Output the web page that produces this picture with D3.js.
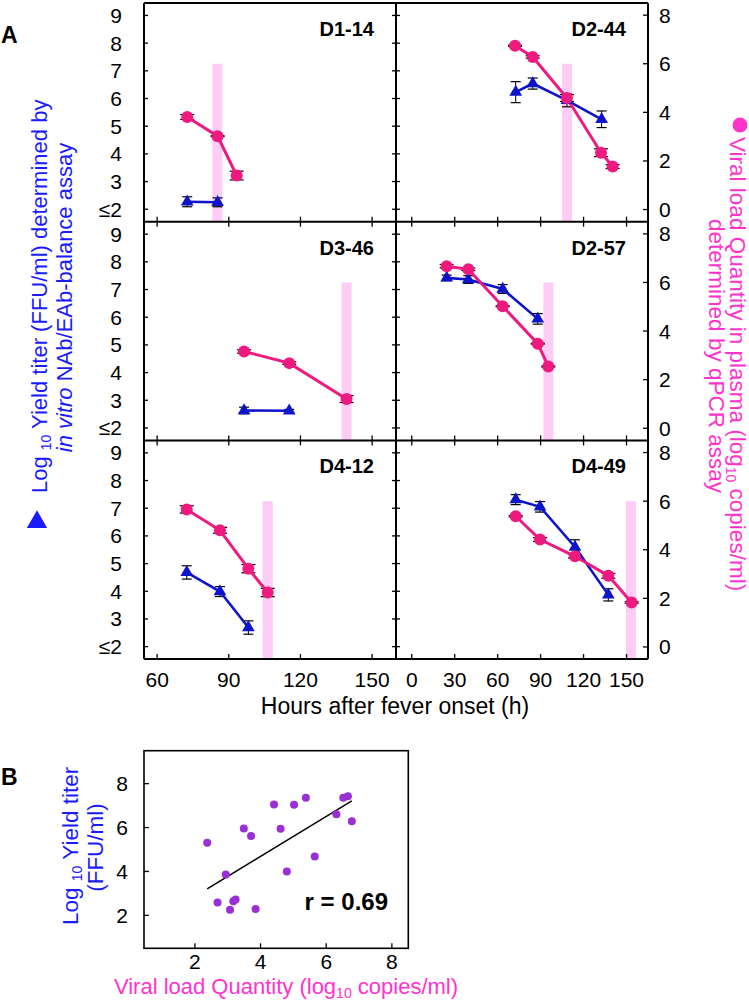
<!DOCTYPE html>
<html><head><meta charset="utf-8">
<script src="https://cdn.jsdelivr.net/npm/d3@7"></script>
<style>body{margin:0;background:#fff}svg{display:block;font-family:"Liberation Sans",Arial,sans-serif}</style>
</head><body><svg id="c" width="749" height="1000"></svg>
<script>
// ---------- DATA ----------
const panelNames = ["D1-14","D2-44","D3-46","D2-57","D4-12","D4-49"];
// viral load (log10 copies/ml, right axis) - pink circles
const loadHours = [[72.6,85.3,93.3],[72.1,84.5,108.4,132.2,140.3],[96.4,115.3,139.3],[24.4,39.5,63.5,88.0,95.4],[72.4,86.3,98.2,106.3],[72.6,89.6,114.0,137.3,153.6]];
const loadValues = [[3.81,3.02,1.40],[6.74,6.28,4.59,2.34,1.77],[3.16,2.68,1.20],[6.67,6.54,5.02,3.48,2.54],[5.66,4.80,3.22,2.24],[5.38,4.42,3.73,2.93,1.83]];
const loadErr = [[0.10,0.02,0.18],[0.03,0.05,0.14,0.16,0.08],[0.07,0.05,0.14],[0.07,0.05,0.02,0.02,0.02],[0.15,0.12,0.17,0.17],[0.03,0.08,0.07,0.10,0.03]];
// yield titer (log10 FFU/ml, left axis) - blue triangles
const titerHours = [[72.6,85.3],[72.6,84.5,108.4,132.6],[96.4,115.3],[24.4,39.5,63.5,88.0],[72.4,86.3,98.2],[72.6,89.6,114.0,137.3]];
const titerValues = [[2.27,2.25],[6.23,6.54,5.93,5.25],[2.63,2.62],[7.42,7.36,7.02,5.94],[4.68,3.99,2.69],[7.31,7.05,5.60,3.87]];
const titerErr = [[0.18,0.16],[0.38,0.20,0.23,0.30],[0.12,0.05],[0.10,0.14,0.16,0.19],[0.24,0.18,0.24],[0.18,0.19,0.26,0.22]];
// shaded marker (hours after fever onset)
const bandHours = [85.2,108.5,139.3,95.4,106.3,153.1];
const bandTopLoad = 6;
// axes
const leftXTicks = [60,90,120,150];
const rightXTicks = [0,30,60,90,120,150];
const titerTicks = [2,3,4,5,6,7,8,9];
const titerTickLabels = ["≤2","3","4","5","6","7","8","9"];
const loadTicks = [0,2,4,6,8];
// panel B scatter
const scatterLoad = [2.375,2.69,2.94,3.07,3.17,3.24,3.49,3.71,3.85,4.41,4.61,4.80,5.02,5.38,5.65,6.31,6.52,6.66,6.78];
const scatterTiter = [5.31,2.59,3.86,2.26,2.64,2.72,5.96,5.61,2.29,7.05,5.95,4.00,7.04,7.36,4.68,6.60,7.36,7.43,6.29];
const fitLoad = [2.375,6.78];
const fitTiter = [3.21,7.21];
const scatterXTicks = [2,4,6,8];
const scatterYTicks = [2,4,6,8];

// ---------- STYLE ----------
const PINK = "#ee1a80", BLUE = "#0d14c9", LBLUE = "#1a1aff", LPINK = "#ff33cc", BAND = "#ffccf6", PURPLE = "#9a2fd6";
const TICKFS = 21, LABFS = 22.5, SUBFS = 14;
const svg = d3.select("#c");
const colX = [144,396], colW = 252;
const rowY = [3,221.7,440.4], rowH = 218.7;
const xDomains = [[54.5,160],[-11,165]];

function tline(g,x1,y1,x2,y2,w){g.append("line").attr("x1",x1).attr("y1",y1).attr("x2",x2).attr("y2",y2).attr("stroke","#000").attr("stroke-width",w||1.3);}

panelNames.forEach((name,i)=>{
  const col=i%2,row=Math.floor(i/2);
  const x0=colX[col],y0=rowY[row];
  const x=d3.scaleLinear().domain(xDomains[col]).range([x0,x0+colW]);
  const yL=d3.scaleLinear().domain([1.55,9.45]).range([y0+rowH,y0]);
  const yR=d3.scaleLinear().domain([-0.5,8.5]).range([y0+rowH,y0]);
  const g=svg.append("g");
  g.append("rect").attr("x",x(bandHours[i])-5).attr("width",10)
   .attr("y",yR(bandTopLoad)).attr("height",y0+rowH-yR(bandTopLoad)).attr("fill",BAND);
  const eb=(hs,vs,es,y,cw)=>hs.forEach((h,k)=>{
    const cx=x(h),a=y(vs[k]+es[k]),b=y(vs[k]-es[k]);
    tline(g,cx,a,cx,b,1);tline(g,cx-cw,a,cx+cw,a,1.2);tline(g,cx-cw,b,cx+cw,b,1.2);
  });
  eb(loadHours[i],loadValues[i],loadErr[i],yR,7);
  eb(titerHours[i],titerValues[i],titerErr[i],yL,5);
  const lineT=d3.line().x(d=>x(d[0])).y(d=>yL(d[1]));
  const lineP=d3.line().x(d=>x(d[0])).y(d=>yR(d[1]));
  const tData=titerHours[i].map((h,k)=>[h,titerValues[i][k]]);
  const pData=loadHours[i].map((h,k)=>[h,loadValues[i][k]]);
  g.append("path").attr("d",lineT(tData)).attr("fill","none").attr("stroke",BLUE).attr("stroke-width",2.6);
  g.append("path").attr("d",lineP(pData)).attr("fill","none").attr("stroke",PINK).attr("stroke-width",3);
  g.selectAll(".tri").data(tData).join("path").attr("transform",d=>`translate(${x(d[0])},${yL(d[1])})`)
   .attr("d",d3.symbol().type(d3.symbolTriangle).size(70)).attr("fill",BLUE);
  g.selectAll(".cir").data(pData).join("circle").attr("cx",d=>x(d[0])).attr("cy",d=>yR(d[1])).attr("r",6).attr("fill",PINK);
  const xt=col===0?leftXTicks:rightXTicks;
  xt.forEach(t=>{tline(g,x(t),y0+rowH,x(t),y0+rowH-5); if(row>0) tline(g,x(t),y0,x(t),y0+5);});
  titerTicks.forEach(t=>{
    if(col===0) tline(g,x0,yL(t),x0+4,yL(t)); else tline(g,x0-4,yL(t),x0+4,yL(t));
  });
  if(col===1) loadTicks.forEach(t=>tline(g,x0+colW-5,yR(t),x0+colW,yR(t)));
  if(col===0) titerTicks.forEach((t,k)=>g.append("text").attr("x",122).attr("y",yL(t)+7.5).attr("text-anchor","end").attr("font-size",TICKFS).text(titerTickLabels[k]));
  else loadTicks.forEach(t=>g.append("text").attr("x",659).attr("y",yR(t)+7.5).attr("font-size",TICKFS).text(t));
  if(row===2) xt.forEach(t=>g.append("text").attr("x",x(t)).attr("y",687).attr("text-anchor","middle").attr("font-size",TICKFS).text(t));
  g.append("text").attr("x",x0+colW-22).attr("y",y0+33).attr("text-anchor","end").attr("font-size",20).attr("font-weight","bold").text(name);
});
const fr=svg.append("g");
tline(fr,144,3,648,3,2);tline(fr,144,659.1,648,659.1,2);
tline(fr,144,3,144,659.1,2);tline(fr,396,3,396,659.1,2);tline(fr,648,3,648,659.1,2);
tline(fr,144,221.7,648,221.7,2);tline(fr,144,440.4,648,440.4,2);

svg.append("text").attr("x",395).attr("y",714).attr("text-anchor","middle").attr("font-size",23).text("Hours after fever onset (h)");
svg.append("text").attr("x",1).attr("y",43).attr("font-size",23).attr("font-weight","bold").text("A");
svg.append("text").attr("x",1).attr("y",785).attr("font-size",23).attr("font-weight","bold").text("B");

// left label
svg.append("path").attr("transform","translate(37,522)").attr("d",d3.symbol().type(d3.symbolTriangle).size(180)).attr("fill",LBLUE);
const ll=svg.append("text").attr("transform","translate(47,493) rotate(-90)").attr("font-size",22).attr("fill",LBLUE);
ll.append("tspan").text("Log ");ll.append("tspan").attr("font-size",SUBFS).attr("dy",4).text("10");
ll.append("tspan").attr("dy",-4).text(" Yield titer (FFU/ml) determined by");
const ll2=svg.append("text").attr("transform","translate(72,297.5) rotate(-90)").attr("font-size",22).attr("fill",LBLUE).attr("text-anchor","middle");
ll2.append("tspan").attr("font-style","italic").text("in vitro");ll2.append("tspan").text(" NAb/EAb-balance assay");

// right label
svg.append("circle").attr("cx",740).attr("cy",125).attr("r",7.5).attr("fill",LPINK);
const rl=svg.append("text").attr("transform","translate(730,137) rotate(90)").attr("font-size",LABFS).attr("fill",LPINK);
rl.append("tspan").text("Viral load Quantity in plasma (log");rl.append("tspan").attr("font-size",SUBFS).attr("dy",4).text("10");
rl.append("tspan").attr("dy",-4).text(" copies/ml)");
svg.append("text").attr("transform","translate(709,356) rotate(90)").attr("font-size",LABFS).attr("fill",LPINK).attr("text-anchor","middle").text("determined by qPCR assay");

// ---------- PANEL B ----------
const bx=d3.scaleLinear().domain([0.45,8.5]).range([144,408.3]);
const by=d3.scaleLinear().domain([0.5,9.5]).range([948.3,750.7]);
const gb=svg.append("g");
gb.append("rect").attr("x",144).attr("y",750.7).attr("width",264.3).attr("height",197.6).attr("fill","none").attr("stroke","#000").attr("stroke-width",1.6);
scatterXTicks.forEach(t=>{tline(gb,bx(t),948.3,bx(t),943.3);gb.append("text").attr("x",bx(t)).attr("y",968.5).attr("text-anchor","middle").attr("font-size",TICKFS).text(t);});
scatterYTicks.forEach(t=>{tline(gb,144,by(t),149,by(t));gb.append("text").attr("x",128).attr("y",by(t)+7.5).attr("text-anchor","end").attr("font-size",TICKFS).text(t);});
gb.append("line").attr("x1",bx(fitLoad[0])).attr("y1",by(fitTiter[0])).attr("x2",bx(fitLoad[1])).attr("y2",by(fitTiter[1])).attr("stroke","#000").attr("stroke-width",1.5);
gb.selectAll(".pt").data(scatterLoad.map((v,k)=>[v,scatterTiter[k]])).join("circle").attr("cx",d=>bx(d[0])).attr("cy",d=>by(d[1])).attr("r",4).attr("fill",PURPLE);
gb.append("text").attr("x",388).attr("y",910).attr("text-anchor","end").attr("font-size",24).attr("font-weight","bold").text("r = 0.69");
const bl=svg.append("text").attr("transform","translate(78,925) rotate(-90)").attr("font-size",LABFS).attr("fill",LBLUE);
bl.append("tspan").text("Log ");bl.append("tspan").attr("font-size",SUBFS).attr("dy",4).text("10");bl.append("tspan").attr("dy",-4).text(" Yield titer");
svg.append("text").attr("transform","translate(103,847.5) rotate(-90)").attr("font-size",LABFS).attr("fill",LBLUE).attr("text-anchor","middle").text("(FFU/ml)");
const xl=svg.append("text").attr("x",286).attr("y",994).attr("text-anchor","middle").attr("font-size",22).attr("fill",LPINK);
xl.append("tspan").text("Viral load Quantity (log");xl.append("tspan").attr("font-size",SUBFS).attr("dy",4).text("10");xl.append("tspan").attr("dy",-4).text(" copies/ml)");
</script></body></html>
